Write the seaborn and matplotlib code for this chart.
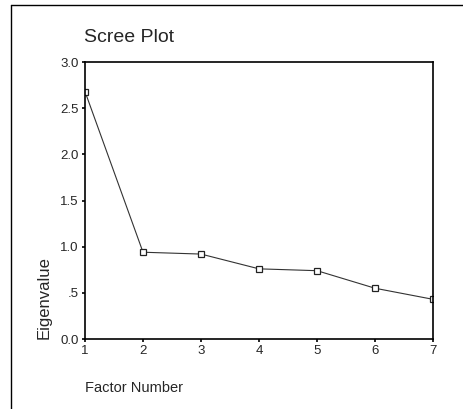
import matplotlib
matplotlib.use("Agg")
import matplotlib.pyplot as plt
import seaborn as sns
import pandas as pd
from matplotlib.lines import Line2D

factors = [1, 2, 3, 4, 5, 6, 7]
eigenvalues = [2.68, 0.94, 0.92, 0.76, 0.74, 0.55, 0.43]
y_ticks = [0.0, 0.5, 1.0, 1.5, 2.0, 2.5, 3.0]
y_tick_labels = ["0.0", ".5", "1.0", "1.5", "2.0", "2.5", "3.0"]

sns.set_style("white")
plt.rcParams['font.family'] = ['Liberation Sans', 'DejaVu Sans']

df = pd.DataFrame({"Factor Number": factors, "Eigenvalue": eigenvalues})

fig = plt.figure(figsize=(4.63, 4.09), dpi=100)
ax = fig.add_axes([0.1836, 0.1711, 0.7516, 0.6773])

sns.lineplot(data=df, x="Factor Number", y="Eigenvalue", ax=ax,
             color="#333333", linewidth=0.8, marker="s", markersize=5,
             markerfacecolor="white", markeredgecolor="#222222",
             markeredgewidth=0.9)

ax.set_xlim(1, 7)
ax.set_ylim(0, 3)
ax.set_xticks(factors)
ax.set_xticklabels([str(f) for f in factors], fontsize=9.5)
ax.set_yticks(y_ticks)
ax.set_yticklabels(y_tick_labels, fontsize=9.5)
ax.tick_params(axis="both", direction="out", length=2.5, width=1.2,
               color="black", pad=2, left=True, bottom=True)
for s in ax.spines.values():
    s.set_visible(True)
    s.set_color("black")
    s.set_linewidth(1.2)

ax.set_xlabel("")
ax.set_ylabel("")
fig.text(85 / 463, 1 - 388 / 409, "Factor Number", fontsize=10.5,
         ha="left", va="center")
fig.text(44 / 463, 1 - 298 / 409, "Eigenvalue", fontsize=12,
         rotation=90, ha="center", va="center")
fig.text(84 / 463, 1 - 37 / 409, "Scree Plot", fontsize=14,
         ha="left", va="center")

# outer frame (left and top)
fig.add_artist(Line2D([11 / 463, 11 / 463], [0, 1 - 5 / 409],
                      transform=fig.transFigure, color="black", linewidth=1.0))
fig.add_artist(Line2D([11 / 463, 1], [1 - 5 / 409, 1 - 5 / 409],
                      transform=fig.transFigure, color="black", linewidth=1.0))

fig.savefig("out.png", dpi=100)
